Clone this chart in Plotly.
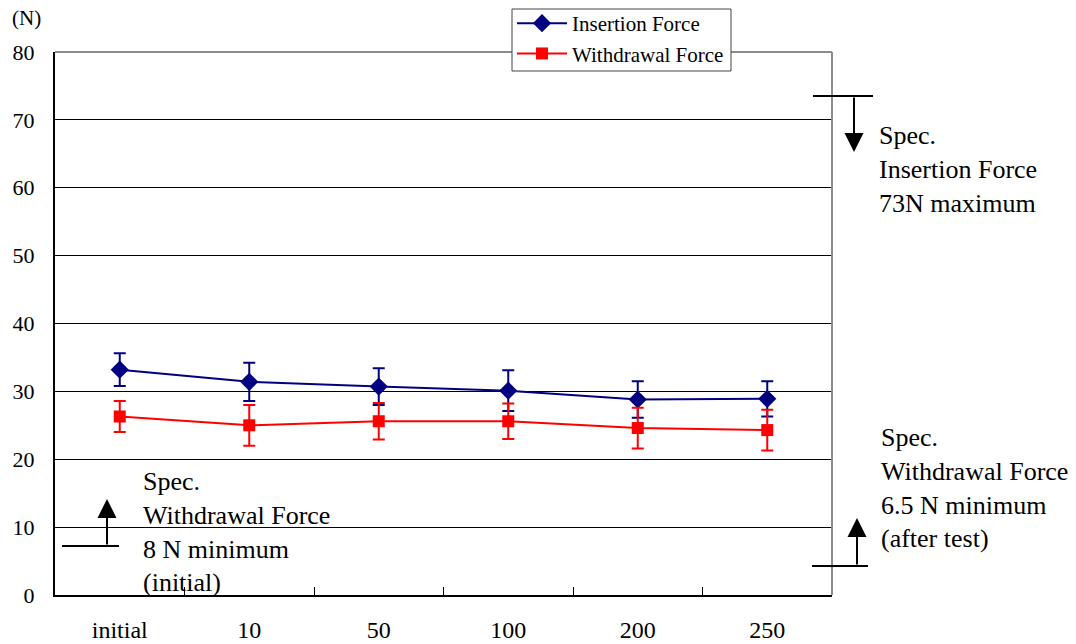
import plotly.graph_objects as go

categories = ["initial", "10", "50", "100", "200", "250"]
insertion = [33.2, 31.4, 30.7, 30.1, 28.8, 28.9]
insertion_err = [2.4, 2.8, 2.7, 3.0, 2.7, 2.6]
withdrawal = [26.3, 25.0, 25.6, 25.6, 24.6, 24.3]
withdrawal_err = [2.3, 3.0, 2.7, 2.6, 3.0, 3.0]
y_ticks = [0, 10, 20, 30, 40, 50, 60, 70, 80]

FONT = "Liberation Serif, Times New Roman, serif"
L, R, T, B = 55, 832, 52, 595
W, H = 1076, 644


def px(x):
    return (x - L) / (R - L)


def py(y):
    return (B - y) / (B - T)


fig = go.Figure()
fig.add_trace(go.Scatter(
    x=categories, y=insertion, name="Insertion Force", mode="lines+markers",
    line=dict(color="#000080", width=2),
    marker=dict(symbol="diamond", size=14, color="#000080"),
    error_y=dict(type="data", array=insertion_err, color="#000080", thickness=2, width=6),
    legendgroup="a",
))
fig.add_trace(go.Scatter(
    x=categories, y=withdrawal, name="Withdrawal Force", mode="lines+markers",
    line=dict(color="#FF0000", width=2),
    marker=dict(symbol="square", size=12, color="#FF0000"),
    error_y=dict(type="data", array=withdrawal_err, color="#FF0000", thickness=2, width=6),
    legendgroup="b",
))

shapes = [
    dict(type="line", xref="paper", yref="paper", x0=0, x1=1, y0=1, y1=1,
         line=dict(color="#8c8c8c", width=2), layer="above"),
    dict(type="line", xref="paper", yref="paper", x0=1, x1=1, y0=0, y1=1,
         line=dict(color="#8c8c8c", width=2), layer="above"),
    # legend box
    dict(type="rect", xref="paper", yref="paper", x0=px(512), x1=px(731), y0=py(71), y1=py(9),
         fillcolor="white", line=dict(color="#444", width=1), layer="above"),
    dict(type="line", xref="paper", yref="paper", x0=px(813), x1=px(873), y0=py(96), y1=py(96),
         line=dict(color="black", width=2)),
    dict(type="line", xref="paper", yref="paper", x0=px(812), x1=px(868), y0=py(566), y1=py(566),
         line=dict(color="black", width=2)),
    dict(type="line", xref="paper", yref="paper", x0=px(62), x1=px(119), y0=py(546), y1=py(546),
         line=dict(color="black", width=2)),
]

annotations = [
    dict(x=px(854), y=py(152), xref="paper", yref="paper", text="", showarrow=True,
         ax=0, ay=-56, arrowhead=2, arrowsize=1.9, arrowwidth=2, arrowcolor="black"),
    dict(x=px(857), y=py(518), xref="paper", yref="paper", text="", showarrow=True,
         ax=0, ay=48, arrowhead=2, arrowsize=1.9, arrowwidth=2, arrowcolor="black"),
    dict(x=px(107), y=py(499), xref="paper", yref="paper", text="", showarrow=True,
         ax=0, ay=47, arrowhead=2, arrowsize=1.9, arrowwidth=2, arrowcolor="black"),
    dict(x=px(877), y=py(119), xref="paper", yref="paper", xanchor="left", yanchor="top",
         align="left", showarrow=False,
         text="Spec.<br>Insertion Force<br>73N maximum",
         font=dict(family=FONT, size=26, color="black")),
    dict(x=px(879), y=py(421), xref="paper", yref="paper", xanchor="left", yanchor="top",
         align="left", showarrow=False,
         text="Spec.<br>Withdrawal Force<br>6.5 N minimum<br>(after test)",
         font=dict(family=FONT, size=26, color="black")),
    dict(x=px(141), y=py(465), xref="paper", yref="paper", xanchor="left", yanchor="top",
         align="left", showarrow=False,
         text="Spec.<br>Withdrawal Force<br>8 N minimum<br>(initial)",
         font=dict(family=FONT, size=26, color="black")),
    dict(x=px(10), y=py(18), xref="paper", yref="paper", xanchor="left", yanchor="middle",
         showarrow=False, text="(N)",
         font=dict(family=FONT, size=21, color="black")),
]

fig.update_layout(
    width=W, height=H,
    margin=dict(l=L, r=W - R, t=T, b=H - B, autoexpand=False),
    paper_bgcolor="white", plot_bgcolor="white",
    font=dict(family=FONT, color="black"),
    showlegend=True,
    legend=dict(
        x=px(512), y=py(3), xanchor="left", yanchor="top",
        bgcolor="rgba(0,0,0,0)", borderwidth=0,
        font=dict(family=FONT, size=21, color="black"),
        tracegroupgap=0, itemwidth=50,
    ),
    shapes=shapes,
    annotations=annotations,
    xaxis=dict(
        type="category", categoryorder="array", categoryarray=categories,
        range=[-0.5, len(categories) - 0.5],
        showline=True, linecolor="black", linewidth=2,
        ticks="inside", tickson="boundaries", ticklen=8, tickcolor="black", tickwidth=1,
        showgrid=False, zeroline=False, automargin=False,
        tickfont=dict(family=FONT, size=24, color="black"),
        ticklabelstandoff=12,
    ),
    yaxis=dict(
        range=[0, 80], tickvals=y_ticks,
        showline=True, linecolor="black", linewidth=2,
        ticks="inside", ticklen=7, tickcolor="black",
        showgrid=True, gridcolor="black", gridwidth=1,
        zeroline=False, automargin=False,
        tickfont=dict(family=FONT, size=22, color="black"),
        ticklabelstandoff=14,
    ),
)

fig.write_html("out.html", config={"displayModeBar": False},
               post_script="document.body.style.margin='0px';document.body.style.overflow='hidden';")
